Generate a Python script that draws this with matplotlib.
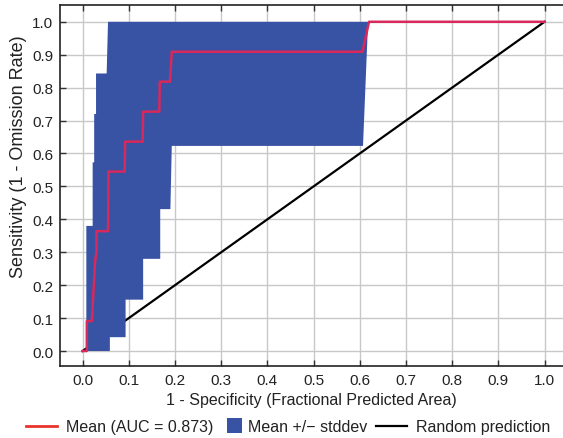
import numpy as np
import matplotlib
matplotlib.use("Agg")
import matplotlib.pyplot as plt
from matplotlib.lines import Line2D
from matplotlib.patches import Patch, Rectangle
from matplotlib.legend_handler import HandlerPatch

plt.rcParams['font.family'] = ['Liberation Sans', 'DejaVu Sans']

# mean ROC curve (1 - specificity, sensitivity)
mean_x = [0.0, 0.009, 0.009, 0.020, 0.027, 0.030, 0.030, 0.055, 0.056, 0.091, 0.092,
          0.130, 0.131, 0.166, 0.167, 0.189, 0.193, 0.606, 0.620, 1.0]
mean_y = [0.0, 0.0, 0.091, 0.091, 0.273, 0.300, 0.364, 0.364, 0.545, 0.545, 0.636,
          0.636, 0.727, 0.727, 0.818, 0.818, 0.909, 0.909, 1.0, 1.0]

# mean + stddev (upper edge of band)
upper_x = [0.008, 0.008, 0.0217, 0.0217, 0.025, 0.025, 0.029, 0.029, 0.052, 0.055, 0.618]
upper_y = [0.0, 0.38, 0.38, 0.573, 0.573, 0.72, 0.72, 0.843, 0.843, 1.0, 1.0]

# mean - stddev (lower edge of band)
lower_x = [0.008, 0.059, 0.059, 0.093, 0.093, 0.131, 0.131, 0.168, 0.168, 0.190, 0.193, 0.607, 0.618]
lower_y = [0.0, 0.0, 0.042, 0.042, 0.156, 0.156, 0.28, 0.28, 0.431, 0.431, 0.623, 0.623, 1.0]

auc = 0.873
ticks = np.round(np.arange(0, 1.01, 0.1), 1)

W, H = 563, 439
fig = plt.figure(figsize=(W/100, H/100), dpi=100)
ax = fig.add_axes([60/W, 72/H, 503/W, 361/H])

ax.plot([0, 1], [0, 1], color='black', lw=1.6, zorder=2)
band_x = np.concatenate([upper_x, lower_x[::-1]])
band_y = np.concatenate([upper_y, lower_y[::-1]])
ax.fill(band_x, band_y, color='#3953a4', lw=0, zorder=3)
ax.plot(mean_x, mean_y, color='#d8285c', lw=1.8, zorder=4)

ax.set_xlim(-0.049, 1.04)
ax.set_ylim(-0.0455, 1.051)
ax.set_xticks(ticks)
ax.set_yticks(ticks)
ax.set_xticklabels(['%.1f' % t for t in ticks])
ax.set_yticklabels(['%.1f' % t for t in ticks])
ax.grid(True, color='#c8c8c8', lw=1.0, zorder=0)
ax.set_axisbelow(True)
ax.tick_params(direction='in', length=4, width=1, color='#333333',
               top=True, labelsize=11, labelcolor='#222222', pad=5)
for s in ['left', 'bottom', 'top']:
    ax.spines[s].set_color('#222222')
    ax.spines[s].set_linewidth(1.2)
ax.spines['right'].set_visible(False)

ax.set_xlabel('1 - Specificity (Fractional Predicted Area)', fontsize=11.5, color='#222222')
ax.xaxis.set_label_coords(0.5, -(393 - 367) / 361, transform=ax.transAxes)
ax.set_ylabel('Sensitivity (1 - Omission Rate)', fontsize=13, color='#222222', va='center')
ax.yaxis.set_label_coords(-(60 - 19) / 503, (367 - 157) / 361)


def square(legend, orig_handle, xdescent, ydescent, width, height, fontsize):
    side = 15 * 72 / 100
    return Rectangle((-xdescent + width - side + 2, -ydescent + (height - side) / 2), side, side)


handles = [Line2D([], [], color='#e8342c', lw=2),
           Patch(facecolor='#3953a4', edgecolor='none'),
           Line2D([], [], color='black', lw=1.6)]
labels = ['Mean (AUC = %.3f)' % auc, 'Mean +/\u2212 stddev', 'Random prediction']
starts = [26, 208, 376]
for h, l, x0 in zip(handles, labels, starts):
    fig.legend([h], [l], loc='center left', bbox_to_anchor=(x0 / W, (H - 428) / H),
               frameon=False, fontsize=11.5, handlelength=31 / 16.0, handletextpad=0.55,
               borderpad=0, borderaxespad=0, labelcolor='#222222',
               handler_map={Patch: HandlerPatch(patch_func=square)})

fig.savefig('out.png', dpi=100)
